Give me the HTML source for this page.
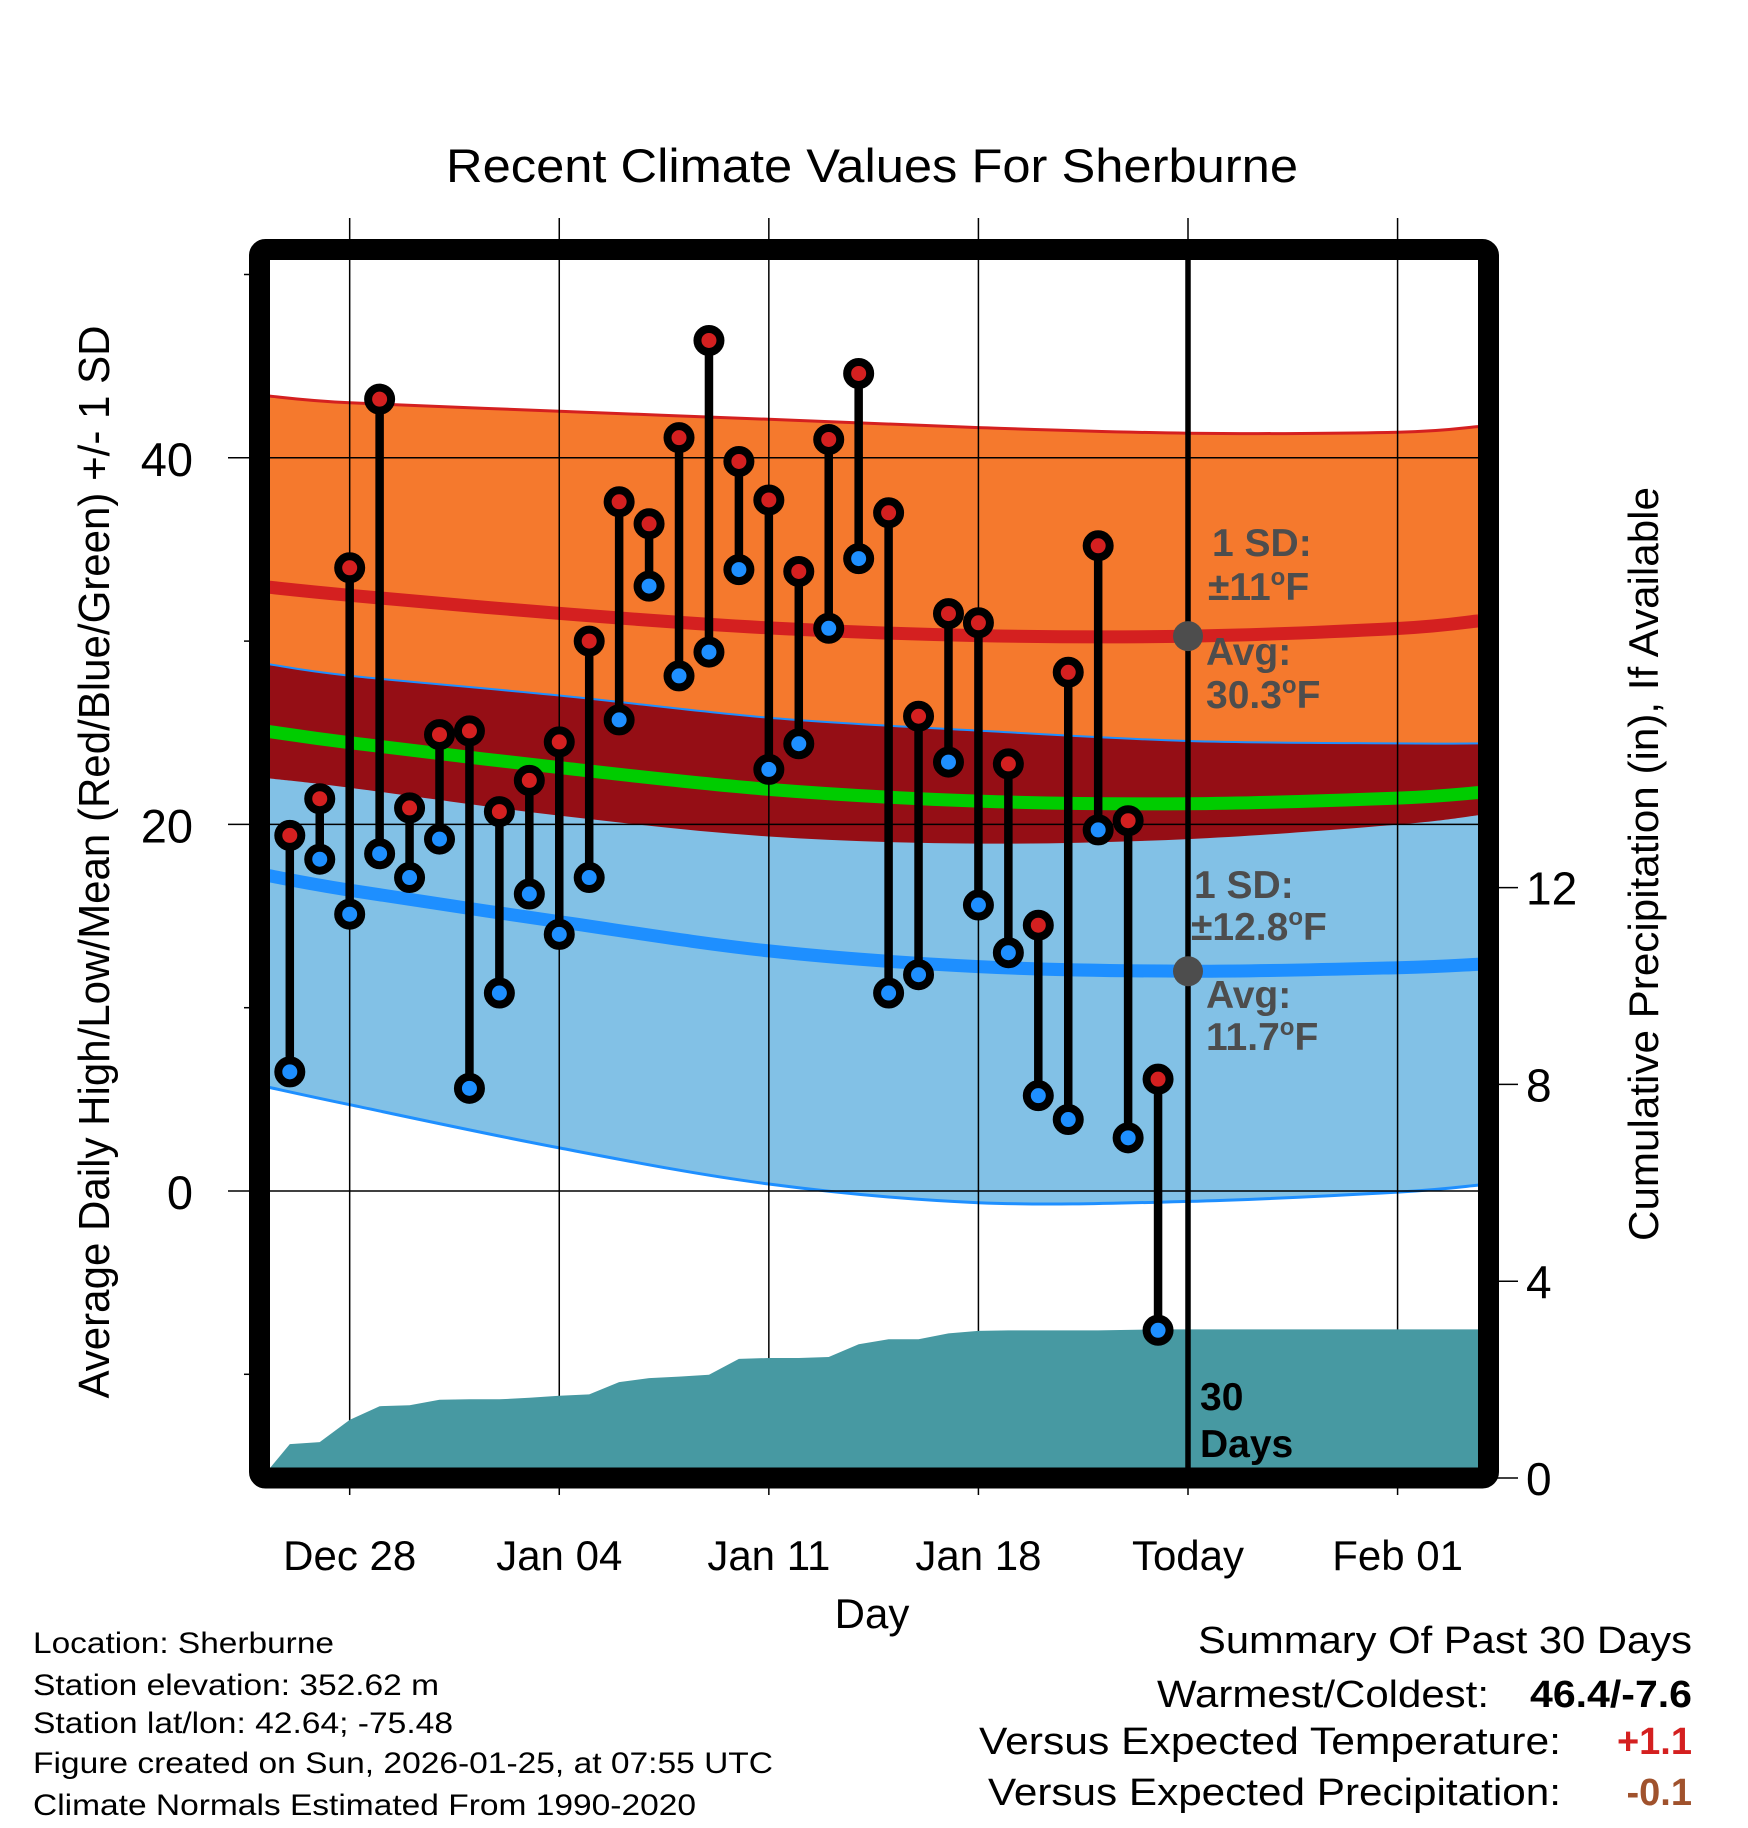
<!DOCTYPE html>
<html><head><meta charset="utf-8"><style>
html,body{margin:0;padding:0;background:#fff;}
svg{display:block;font-family:"Liberation Sans",Arial,sans-serif;}
</style></head><body>
<svg id="chart" width="1748" height="1828" viewBox="0 0 1748 1828" xmlns="http://www.w3.org/2000/svg">
<g id="bands"></g>
<g id="grid"></g>
<g id="precip"></g>
<g id="marks"></g>
<g id="frame"></g>
<g id="labels"></g>
</svg>
<script>
// ---- data ----
const dayOffsets = [-30,-29,-28,-27,-26,-25,-24,-23,-22,-21,-20,-19,-18,-17,-16,-15,-14,-13,-12,-11,-10,-9,-8,-7,-6,-5,-4,-3,-2,-1];
const highs = [19.4,21.4,34.0,43.2,20.9,24.9,25.1,20.7,22.4,24.5,30.0,37.6,36.4,41.1,46.4,39.8,37.7,33.8,41.0,44.6,37.0,25.9,31.5,31.0,23.3,14.5,28.3,35.2,20.2,6.1];
const lows = [6.5,18.1,15.1,18.4,17.1,19.2,5.6,10.8,16.2,14.0,17.1,25.7,33.0,28.1,29.4,33.9,23.0,24.4,30.7,34.5,10.8,11.8,23.4,15.6,13.0,5.2,3.9,19.7,2.9,-7.6];
const precipCum = [0.69,0.73,1.18,1.46,1.48,1.59,1.60,1.60,1.63,1.67,1.70,1.95,2.03,2.06,2.10,2.42,2.44,2.44,2.46,2.72,2.82,2.82,2.94,2.99,3.00,3.00,3.00,3.00,3.01,3.02];
const normalDays = [-30.7,-28,-21,-14,-7,0,7,9.7];
const highAvg = [32.94,32.50,31.51,30.72,30.30,30.27,30.69,31.10];
const highSD = [10.43,10.50,11.03,11.38,11.35,11.07,10.70,10.60];
const lowAvg = [17.20,16.41,14.69,13.10,12.24,11.99,12.18,12.37];
const lowSD = [11.54,11.70,12.34,12.72,12.88,12.56,12.24,12.05];
const tempTicks = [0,20,40];
const tempMinorTicks = [-10,10,30,50];
const precipTicks = [0,4,8,12];
const xTickDays = [-28,-21,-14,-7,0,7];
const xTickLabels = ["Dec 28","Jan 04","Jan 11","Jan 18","Today","Feb 01"];

// ---- scales ----
const L=270,R=1478,T=260,B=1468;
function xs(d){return 1188+d*29.94;}
function ys(v){return 1191-v*18.33;}
function yp(v){return 1478-v*49.2;}
const NS="http://www.w3.org/2000/svg";
function mk(tag,attrs,parent){const e=document.createElementNS(NS,tag);for(const k in attrs)e.setAttribute(k,attrs[k]);parent.appendChild(e);return e;}
function smooth(pts){
  let d="M"+pts[0][0].toFixed(1)+","+pts[0][1].toFixed(1);
  for(let i=0;i<pts.length-1;i++){
    const p0=pts[Math.max(0,i-1)],p1=pts[i],p2=pts[i+1],p3=pts[Math.min(pts.length-1,i+2)];
    const c1=[p1[0]+(p2[0]-p0[0])/6,p1[1]+(p2[1]-p0[1])/6];
    const c2=[p2[0]-(p3[0]-p1[0])/6,p2[1]-(p3[1]-p1[1])/6];
    d+=" C"+c1[0].toFixed(1)+","+c1[1].toFixed(1)+" "+c2[0].toFixed(1)+","+c2[1].toFixed(1)+" "+p2[0].toFixed(1)+","+p2[1].toFixed(1);
  }
  return d;
}
function curve(arr){return normalDays.map((d,i)=>[xs(d),ys(arr[i])]);}
function bandPath(top,bot){
  const a=smooth(curve(top));
  const rb=curve(bot).reverse();
  const b=smooth(rb).replace(/^M/,"L");
  return a+" "+b+" Z";
}
const hTop=highAvg.map((v,i)=>v+highSD[i]), hBot=highAvg.map((v,i)=>v-highSD[i]);
const lTop=lowAvg.map((v,i)=>v+lowSD[i]), lBot=lowAvg.map((v,i)=>v-lowSD[i]);
const meanArr=highAvg.map((v,i)=>(v+lowAvg[i])/2);
const oHi=lTop.map((v,i)=>Math.min(v,hTop[i]));

const bands=document.getElementById('bands');
const clip=mk('clipPath',{id:'pc'},bands);mk('rect',{x:L,y:T,width:R-L,height:B-T},clip);
bands.setAttribute('clip-path','url(#pc)');
let e;
e=mk('path',{d:bandPath(hTop,hBot),fill:'#f5792d'},bands);


e=mk('path',{d:bandPath(lTop,lBot),fill:'#82c1e6'},bands);


e=mk('path',{d:bandPath(oHi,hBot),fill:'#950e15'},bands);


e=mk('path',{d:smooth(curve(hTop)),fill:'none',stroke:'#d42020','stroke-width':3},bands);


e=mk('path',{d:smooth(curve(lTop)),fill:'none',stroke:'#1e8fff','stroke-width':2},bands);


e=mk('path',{d:smooth(curve(lBot)),fill:'none',stroke:'#1e8fff','stroke-width':3},bands);


e=mk('path',{d:smooth(curve(highAvg)),fill:'none',stroke:'#d42020','stroke-width':13},bands);


e=mk('path',{d:smooth(curve(lowAvg)),fill:'none',stroke:'#1e8fff','stroke-width':13},bands);


e=mk('path',{d:smooth(curve(meanArr)),fill:'none',stroke:'#00cc00','stroke-width':13},bands);



// grid
const grid=document.getElementById('grid');
xTickDays.forEach(d=>{
  e=mk('line',{x1:xs(d),x2:xs(d),y1:218,y2:1495,stroke:'#000','stroke-width':1.5},grid);
  
  
});
tempTicks.forEach(v=>{
  e=mk('line',{x1:228,x2:R,y1:ys(v),y2:ys(v),stroke:'#000','stroke-width':1.5},grid);
  
  
});
tempMinorTicks.forEach(v=>{
  e=mk('line',{x1:244,x2:260,y1:ys(v),y2:ys(v),stroke:'#000','stroke-width':1.5},grid);
  
  
});
precipTicks.forEach(v=>{
  e=mk('line',{x1:1490,x2:1518,y1:yp(v),y2:yp(v),stroke:'#000','stroke-width':1.5},grid);
  
  
});

// precip
const pg=document.getElementById('precip');
let pd="M"+L+","+B;
dayOffsets.forEach((d,i)=>{pd+=" L"+xs(d).toFixed(1)+","+yp(precipCum[i]).toFixed(1);});
pd+=" L"+R+","+yp(precipCum[precipCum.length-1]).toFixed(1)+" L"+R+","+B+" Z";
e=mk('path',{d:pd,fill:'#4799a2'},pg);


e=mk('line',{x1:xs(0),x2:xs(0),y1:T,y2:B,stroke:'#000','stroke-width':5.5},pg);



// marks
const mg=document.getElementById('marks');
e=mk('circle',{cx:xs(0),cy:ys(highAvg[5]),r:15,fill:'#4d4d4d'},mg);


e=mk('circle',{cx:xs(0),cy:ys(lowAvg[5]),r:15,fill:'#4d4d4d'},mg);


dayOffsets.forEach((d,i)=>{
  const x=xs(d);
  e=mk('line',{x1:x,x2:x,y1:ys(highs[i]),y2:ys(lows[i]),stroke:'#000','stroke-width':8.5},mg);
  
  
  e=mk('circle',{cx:x,cy:ys(highs[i]),r:11.5,fill:'#d42020',stroke:'#000','stroke-width':8},mg);
  
  
  e=mk('circle',{cx:x,cy:ys(lows[i]),r:11.5,fill:'#1e8fff',stroke:'#000','stroke-width':8},mg);
  
  
});

// frame
const fg=document.getElementById('frame');
e=mk('rect',{x:259.5,y:249.5,width:1229,height:1228.5,fill:'none',stroke:'#000','stroke-width':21,rx:6},fg);



// labels
const lg=document.getElementById('labels');
function txt(s,attrs,name){const t=mk('text',attrs,lg);t.textContent=s;return t;}
tempTicks.forEach(v=>{txt(String(v),{x:193,y:ys(v)+18,'font-size':47,'text-anchor':'end'},'y-tick-label');});
precipTicks.forEach(v=>{txt(String(v),{x:1526,y:yp(v)+17,'font-size':46},'precip-tick-label');});
xTickDays.forEach((d,i)=>{txt(xTickLabels[i],{x:xs(d),y:1570,'font-size':42,'text-anchor':'middle'},'x-tick-label');});
</script>
<svg style="position:absolute;left:0;top:0" width="1748" height="1828" viewBox="0 0 1748 1828" xmlns="http://www.w3.org/2000/svg" font-family="Liberation Sans, Arial, sans-serif">
<text x="872" y="182" font-size="47" text-anchor="middle" textLength="852" lengthAdjust="spacingAndGlyphs">Recent Climate Values For Sherburne</text>
<text x="872" y="1628" font-size="42" text-anchor="middle">Day</text>
<text transform="translate(109,862) rotate(-90)" font-size="44" text-anchor="middle" textLength="1073" lengthAdjust="spacingAndGlyphs">Average Daily High/Low/Mean (Red/Blue/Green) +/- 1 SD</text>
<text transform="translate(1658,864) rotate(-90)" font-size="42" text-anchor="middle" textLength="754" lengthAdjust="spacingAndGlyphs">Cumulative Precipitation (in), If Available</text>
<g font-weight="bold" font-size="39" fill="#4d4d4d">
<text x="1212" y="556">1 SD:</text>
<text x="1208" y="600">±11<tspan font-size="24" dy="-15">o</tspan><tspan dy="15">F</tspan></text>
<text x="1206" y="665">Avg:</text>
<text x="1206" y="708">30.3<tspan font-size="24" dy="-15">o</tspan><tspan dy="15">F</tspan></text>
<text x="1194" y="898">1 SD:</text>
<text x="1191" y="940">±12.8<tspan font-size="24" dy="-15">o</tspan><tspan dy="15">F</tspan></text>
<text x="1206" y="1008">Avg:</text>
<text x="1206" y="1050">11.7<tspan font-size="24" dy="-15">o</tspan><tspan dy="15">F</tspan></text>
</g>
<g font-weight="bold" font-size="39" fill="#000">
<text x="1200" y="1410">30</text>
<text x="1200" y="1457">Days</text>
</g>
<g font-size="30" fill="#000">
<text x="33" y="1653" textLength="301" lengthAdjust="spacingAndGlyphs">Location: Sherburne</text>
<text x="33" y="1695" textLength="406" lengthAdjust="spacingAndGlyphs">Station elevation: 352.62 m</text>
<text x="33" y="1733" textLength="420" lengthAdjust="spacingAndGlyphs">Station lat/lon: 42.64; -75.48</text>
<text x="33" y="1773" textLength="740" lengthAdjust="spacingAndGlyphs">Figure created on Sun, 2026-01-25, at 07:55 UTC</text>
<text x="33" y="1815" textLength="663" lengthAdjust="spacingAndGlyphs">Climate Normals Estimated From 1990-2020</text>
</g>
<g font-size="38" fill="#000">
<text x="1692" y="1653" text-anchor="end" textLength="494" lengthAdjust="spacingAndGlyphs">Summary Of Past 30 Days</text>
<text x="1489" y="1707" text-anchor="end" textLength="332" lengthAdjust="spacingAndGlyphs">Warmest/Coldest:</text>
<text x="1692" y="1707" text-anchor="end" font-weight="bold" textLength="162" lengthAdjust="spacingAndGlyphs">46.4/-7.6</text>
<text x="1561" y="1754" text-anchor="end" textLength="582" lengthAdjust="spacingAndGlyphs">Versus Expected Temperature:</text>
<text x="1692" y="1754" text-anchor="end" font-weight="bold" fill="#d42020">+1.1</text>
<text x="1561" y="1805" text-anchor="end" textLength="573" lengthAdjust="spacingAndGlyphs">Versus Expected Precipitation:</text>
<text x="1692" y="1805" text-anchor="end" font-weight="bold" fill="#a0522d">-0.1</text>
</g>
</svg>
</body></html>
